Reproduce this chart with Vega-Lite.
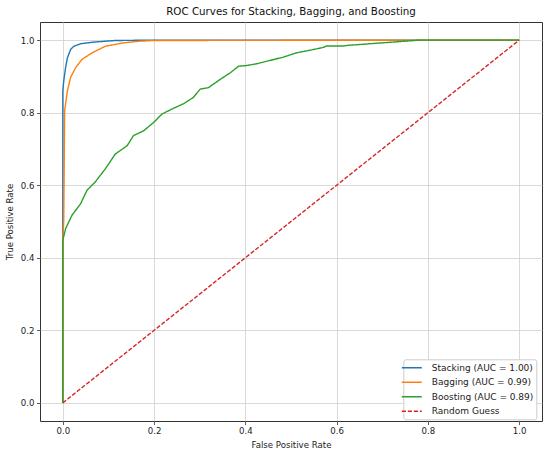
{
  "$schema": "https://vega.github.io/schema/vega-lite/v6.json",
  "width": 502,
  "height": 399,
  "autosize": "none",
  "padding": {"left": 40, "top": 22, "right": 8, "bottom": 33},
  "background": "white",
  "config": {
    "font": "DejaVu Sans",
    "view": {"stroke": "#333333", "strokeWidth": 1},
    "axis": {
      "domain": false,
      "grid": true,
      "gridColor": "#d0d0d0",
      "gridWidth": 0.8,
      "tickColor": "#333333",
      "tickSize": 3.5,
      "tickWidth": 0.8,
      "labelFont": "DejaVu Sans",
      "labelFontSize": 8.6,
      "labelColor": "#222222",
      "titleFont": "DejaVu Sans",
      "titleFontSize": 8.6,
      "titleFontWeight": "normal",
      "titleColor": "#222222"
    },
    "legend": {
      "title": null,
      "symbolType": "M-2,0H2",
      "symbolSize": 100,
      "symbolStrokeWidth": 1.5,
      "labelFontSize": 9,
      "labelFont": "DejaVu Sans",
      "labelColor": "#222222",
      "labelOffset": 14,
      "labelLimit": 300,
      "rowPadding": 3.5,
      "padding": 2.5,
      "strokeColor": "#cccccc",
      "fillColor": "white",
      "cornerRadius": 2
    }
  },
  "title": {
    "text": "ROC Curves for Stacking, Bagging, and Boosting",
    "font": "DejaVu Sans",
    "fontSize": 10.3,
    "fontWeight": "normal",
    "color": "#111111",
    "offset": 5
  },
  "data": {
    "values": [
      {"series": "Stacking (AUC = 1.00)", "i": 0, "fpr": 0, "tpr": 0},
      {"series": "Stacking (AUC = 1.00)", "i": 1, "fpr": 0, "tpr": 0.65},
      {"series": "Stacking (AUC = 1.00)", "i": 2, "fpr": 0, "tpr": 0.86},
      {"series": "Stacking (AUC = 1.00)", "i": 3, "fpr": 0.002, "tpr": 0.887},
      {"series": "Stacking (AUC = 1.00)", "i": 4, "fpr": 0.006, "tpr": 0.924},
      {"series": "Stacking (AUC = 1.00)", "i": 5, "fpr": 0.01, "tpr": 0.951},
      {"series": "Stacking (AUC = 1.00)", "i": 6, "fpr": 0.017, "tpr": 0.974},
      {"series": "Stacking (AUC = 1.00)", "i": 7, "fpr": 0.024, "tpr": 0.983},
      {"series": "Stacking (AUC = 1.00)", "i": 8, "fpr": 0.039, "tpr": 0.99},
      {"series": "Stacking (AUC = 1.00)", "i": 9, "fpr": 0.071, "tpr": 0.995},
      {"series": "Stacking (AUC = 1.00)", "i": 10, "fpr": 0.115, "tpr": 0.999},
      {"series": "Stacking (AUC = 1.00)", "i": 11, "fpr": 0.2, "tpr": 1.0},
      {"series": "Stacking (AUC = 1.00)", "i": 12, "fpr": 1.0, "tpr": 1.0},
      {"series": "Bagging (AUC = 0.99)", "i": 0, "fpr": 0, "tpr": 0},
      {"series": "Bagging (AUC = 0.99)", "i": 1, "fpr": 0, "tpr": 0.45},
      {"series": "Bagging (AUC = 0.99)", "i": 2, "fpr": 0.002, "tpr": 0.5},
      {"series": "Bagging (AUC = 0.99)", "i": 3, "fpr": 0.003, "tpr": 0.65},
      {"series": "Bagging (AUC = 0.99)", "i": 4, "fpr": 0.004, "tpr": 0.805},
      {"series": "Bagging (AUC = 0.99)", "i": 5, "fpr": 0.01, "tpr": 0.86},
      {"series": "Bagging (AUC = 0.99)", "i": 6, "fpr": 0.017, "tpr": 0.897},
      {"series": "Bagging (AUC = 0.99)", "i": 7, "fpr": 0.028, "tpr": 0.924},
      {"series": "Bagging (AUC = 0.99)", "i": 8, "fpr": 0.042, "tpr": 0.947},
      {"series": "Bagging (AUC = 0.99)", "i": 9, "fpr": 0.064, "tpr": 0.965},
      {"series": "Bagging (AUC = 0.99)", "i": 10, "fpr": 0.093, "tpr": 0.983},
      {"series": "Bagging (AUC = 0.99)", "i": 11, "fpr": 0.13, "tpr": 0.992},
      {"series": "Bagging (AUC = 0.99)", "i": 12, "fpr": 0.166, "tpr": 0.997},
      {"series": "Bagging (AUC = 0.99)", "i": 13, "fpr": 0.2, "tpr": 0.999},
      {"series": "Bagging (AUC = 0.99)", "i": 14, "fpr": 0.78, "tpr": 1.0},
      {"series": "Bagging (AUC = 0.99)", "i": 15, "fpr": 1.0, "tpr": 1.0},
      {"series": "Boosting (AUC = 0.89)", "i": 0, "fpr": 0, "tpr": 0},
      {"series": "Boosting (AUC = 0.89)", "i": 1, "fpr": 0, "tpr": 0.448},
      {"series": "Boosting (AUC = 0.89)", "i": 2, "fpr": 0.006, "tpr": 0.48},
      {"series": "Boosting (AUC = 0.89)", "i": 3, "fpr": 0.02, "tpr": 0.517},
      {"series": "Boosting (AUC = 0.89)", "i": 4, "fpr": 0.039, "tpr": 0.549},
      {"series": "Boosting (AUC = 0.89)", "i": 5, "fpr": 0.053, "tpr": 0.586},
      {"series": "Boosting (AUC = 0.89)", "i": 6, "fpr": 0.071, "tpr": 0.609},
      {"series": "Boosting (AUC = 0.89)", "i": 7, "fpr": 0.093, "tpr": 0.645},
      {"series": "Boosting (AUC = 0.89)", "i": 8, "fpr": 0.115, "tpr": 0.686},
      {"series": "Boosting (AUC = 0.89)", "i": 9, "fpr": 0.141, "tpr": 0.709},
      {"series": "Boosting (AUC = 0.89)", "i": 10, "fpr": 0.155, "tpr": 0.737},
      {"series": "Boosting (AUC = 0.89)", "i": 11, "fpr": 0.177, "tpr": 0.75},
      {"series": "Boosting (AUC = 0.89)", "i": 12, "fpr": 0.199, "tpr": 0.773},
      {"series": "Boosting (AUC = 0.89)", "i": 13, "fpr": 0.217, "tpr": 0.796},
      {"series": "Boosting (AUC = 0.89)", "i": 14, "fpr": 0.239, "tpr": 0.81},
      {"series": "Boosting (AUC = 0.89)", "i": 15, "fpr": 0.265, "tpr": 0.825},
      {"series": "Boosting (AUC = 0.89)", "i": 16, "fpr": 0.286, "tpr": 0.842},
      {"series": "Boosting (AUC = 0.89)", "i": 17, "fpr": 0.301, "tpr": 0.865},
      {"series": "Boosting (AUC = 0.89)", "i": 18, "fpr": 0.319, "tpr": 0.869},
      {"series": "Boosting (AUC = 0.89)", "i": 19, "fpr": 0.345, "tpr": 0.892},
      {"series": "Boosting (AUC = 0.89)", "i": 20, "fpr": 0.367, "tpr": 0.91},
      {"series": "Boosting (AUC = 0.89)", "i": 21, "fpr": 0.385, "tpr": 0.928},
      {"series": "Boosting (AUC = 0.89)", "i": 22, "fpr": 0.403, "tpr": 0.93},
      {"series": "Boosting (AUC = 0.89)", "i": 23, "fpr": 0.425, "tpr": 0.935},
      {"series": "Boosting (AUC = 0.89)", "i": 24, "fpr": 0.454, "tpr": 0.944},
      {"series": "Boosting (AUC = 0.89)", "i": 25, "fpr": 0.483, "tpr": 0.953},
      {"series": "Boosting (AUC = 0.89)", "i": 26, "fpr": 0.512, "tpr": 0.965},
      {"series": "Boosting (AUC = 0.89)", "i": 27, "fpr": 0.541, "tpr": 0.972},
      {"series": "Boosting (AUC = 0.89)", "i": 28, "fpr": 0.571, "tpr": 0.98},
      {"series": "Boosting (AUC = 0.89)", "i": 29, "fpr": 0.578, "tpr": 0.984},
      {"series": "Boosting (AUC = 0.89)", "i": 30, "fpr": 0.614, "tpr": 0.984},
      {"series": "Boosting (AUC = 0.89)", "i": 31, "fpr": 0.629, "tpr": 0.986},
      {"series": "Boosting (AUC = 0.89)", "i": 32, "fpr": 0.694, "tpr": 0.992},
      {"series": "Boosting (AUC = 0.89)", "i": 33, "fpr": 0.771, "tpr": 0.999},
      {"series": "Boosting (AUC = 0.89)", "i": 34, "fpr": 0.78, "tpr": 1.0},
      {"series": "Boosting (AUC = 0.89)", "i": 35, "fpr": 1.0, "tpr": 1.0},
      {"series": "Random Guess", "i": 0, "fpr": 0, "tpr": 0},
      {"series": "Random Guess", "i": 1, "fpr": 1.0, "tpr": 1.0}
    ]
  },
  "mark": {"type": "line", "strokeWidth": 1.4, "clip": true},
  "encoding": {
    "x": {
      "field": "fpr",
      "type": "quantitative",
      "title": "False Positive Rate",
      "scale": {"domain": [-0.05, 1.05], "nice": false, "zero": false},
      "axis": {"values": [0, 0.2, 0.4, 0.6, 0.8, 1.0], "format": ".1f", "labelPadding": 2, "titlePadding": 5}
    },
    "y": {
      "field": "tpr",
      "type": "quantitative",
      "title": "True Positive Rate",
      "scale": {"domain": [-0.05, 1.05], "nice": false, "zero": false},
      "axis": {"values": [0, 0.2, 0.4, 0.6, 0.8, 1.0], "format": ".1f", "labelPadding": 2.5, "titlePadding": 6}
    },
    "order": {"field": "i", "type": "quantitative"},
    "color": {
      "field": "series",
      "type": "nominal",
      "sort": ["Stacking (AUC = 1.00)", "Bagging (AUC = 0.99)", "Boosting (AUC = 0.89)", "Random Guess"],
      "scale": {
        "domain": ["Stacking (AUC = 1.00)", "Bagging (AUC = 0.99)", "Boosting (AUC = 0.89)", "Random Guess"],
        "range": ["#1f77b4", "#ff7f0e", "#2ca02c", "#d62728"]
      },
      "legend": {"orient": "none", "legendX": 363.3, "legendY": 337.3}
    },
    "strokeDash": {
      "field": "series",
      "type": "nominal",
      "sort": ["Stacking (AUC = 1.00)", "Bagging (AUC = 0.99)", "Boosting (AUC = 0.89)", "Random Guess"],
      "scale": {
        "domain": ["Stacking (AUC = 1.00)", "Bagging (AUC = 0.99)", "Boosting (AUC = 0.89)", "Random Guess"],
        "range": [[1, 0], [1, 0], [1, 0], [4.2, 1.8]]
      },
      "legend": {"orient": "none", "legendX": 363.3, "legendY": 337.3}
    }
  }
}
